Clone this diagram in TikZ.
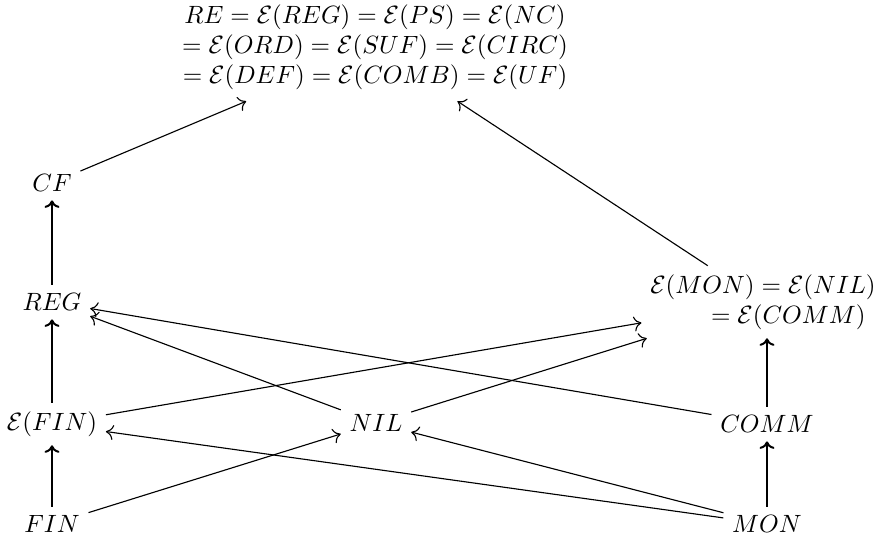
\documentclass[tikz,border=0pt]{standalone}
\usetikzlibrary{arrows.meta}
\begin{document}
\begin{tikzpicture}[x=0.4pt,y=-0.4pt,
  obj/.style={inner sep=3.33pt},
  thick arrow/.style={line width=0.8pt,-{To[length=3pt,width=6pt]}},
  thin arrow/.style={line width=0.45pt,-{To[length=3pt,width=6pt]}}]
\useasboundingbox (0,0) rectangle (883,540);
\node[obj,inner sep=4.5pt,align=center] (top) at (375,47)
  {$RE = \mathcal{E}(REG) = \mathcal{E}(PS) = \mathcal{E}(NC)$\\
   $= \mathcal{E}(ORD) = \mathcal{E}(SUF) = \mathcal{E}(CIRC)$\\
   $= \mathcal{E}(DEF) = \mathcal{E}(COMB) = \mathcal{E}(UF)$};
\node[obj] (cf) at (52,183) {$CF$};
\node[obj] (reg) at (52,302) {$REG$};
\node[obj] (efin) at (52,424) {$\mathcal{E}(FIN)$};
\node[obj] (fin) at (52,524) {$FIN$};
\node[obj] (nil) at (376,423) {$NIL$};
\node[obj] (comm) at (767,424) {$COMM$};
\node[obj] (mon) at (767,524) {$MON$};
\node[obj,align=right] (emon) at (763,302)
  {$\mathcal{E}(MON) = \mathcal{E}(NIL)$\\ $= \mathcal{E}(COMM)\hspace{4pt}$};
\draw[thin arrow] (cf) -- (top);
\draw[thin arrow] (emon) -- (top);
\draw[thick arrow] (reg) -- (cf);
\draw[thick arrow] (efin) -- (reg);
\draw[thick arrow] (fin) -- (efin);
\draw[thick arrow] (comm) -- (comm |- emon.south);
\draw[thick arrow] (mon) -- (comm);
\draw[thin arrow] (comm) -- (reg);
\draw[thin arrow] (nil) -- (reg);
\draw[thin arrow] (efin) -- (emon);
\draw[thin arrow] (nil) -- (emon);
\draw[thin arrow] (mon) -- (efin);
\draw[thin arrow] (mon) -- (nil);
\draw[thin arrow] (fin) -- (nil);
\end{tikzpicture}
\end{document}
